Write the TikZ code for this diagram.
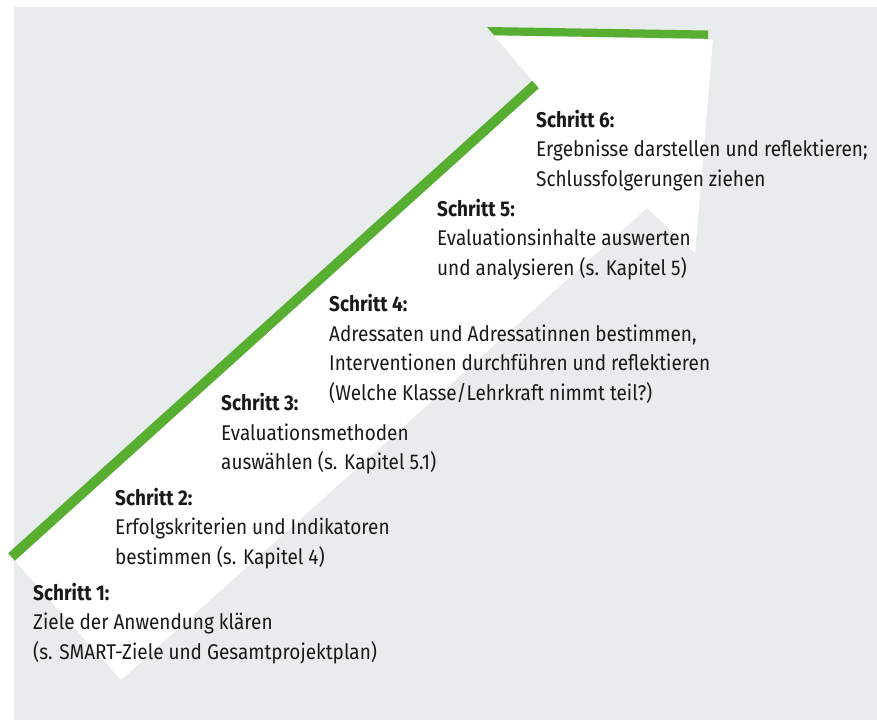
\documentclass[tikz,border=0pt]{standalone}
\usepackage{fontspec}
\setmainfont{Fira Sans}[FakeStretch=0.89]
\definecolor{bggray}{RGB}{233,236,236}
\definecolor{stepgreen}{RGB}{88,174,49}
\begin{document}
\begin{tikzpicture}[x=1pt,y=-1pt,
  steptext/.style={anchor=base west, inner sep=0pt, text=black!90,
    font=\fontsize{21.3}{29.5}\selectfont},
]
\useasboundingbox (0,0) rectangle (877,720);
% background panel
\fill[bggray] (14,7) rectangle (877,720);
% white arrow
\fill[white] (11.5,557) -- (535.5,84.5) -- (494,35.5) -- (713,39.5) -- (695,253)
  -- (647,208) -- (121,680) -- cycle;
% green edges
\draw[stepgreen, line width=10pt] (11.5,557) -- (535.5,84.5);
\fill[stepgreen] (487,27) -- (708,30.5) -- (708,38.8) -- (494,35.3) -- cycle;
% texts
\node[steptext] (s1) at (33,600) {\vtop{\hbox{\bfseries Schritt 1:}\hbox{Ziele der Anwendung klären}\hbox{(s. SMART-Ziele und Gesamtprojektplan)}}};
\node[steptext] (s2) at (115,505) {\vtop{\hbox{\bfseries Schritt 2:}\hbox{Erfolgskriterien und Indikatoren}\hbox{bestimmen (s. Kapitel 4)}}};
\node[steptext] (s3) at (221,410.7) {\vtop{\hbox{\bfseries Schritt 3:}\hbox{Evaluationsmethoden}\hbox{auswählen (s. Kapitel 5.1)}}};
\node[steptext] (s4) at (329,311.7) {\vtop{\hbox{\bfseries Schritt 4:}\hbox{Adressaten und Adressatinnen bestimmen,}\hbox{Interventionen durchführen und reflektieren}\hbox{(Welche Klasse/Lehrkraft nimmt teil?)}}};
\node[steptext] (s5) at (437,216) {\vtop{\hbox{\bfseries Schritt 5:}\hbox{Evaluationsinhalte auswerten}\hbox{und analysieren (s. Kapitel 5)}}};
\node[steptext] (s6) at (536,127) {\vtop{\hbox{\bfseries Schritt 6:}\hbox{Ergebnisse darstellen und reflektieren;}\hbox{Schlussfolgerungen ziehen}}};
\end{tikzpicture}
\end{document}
